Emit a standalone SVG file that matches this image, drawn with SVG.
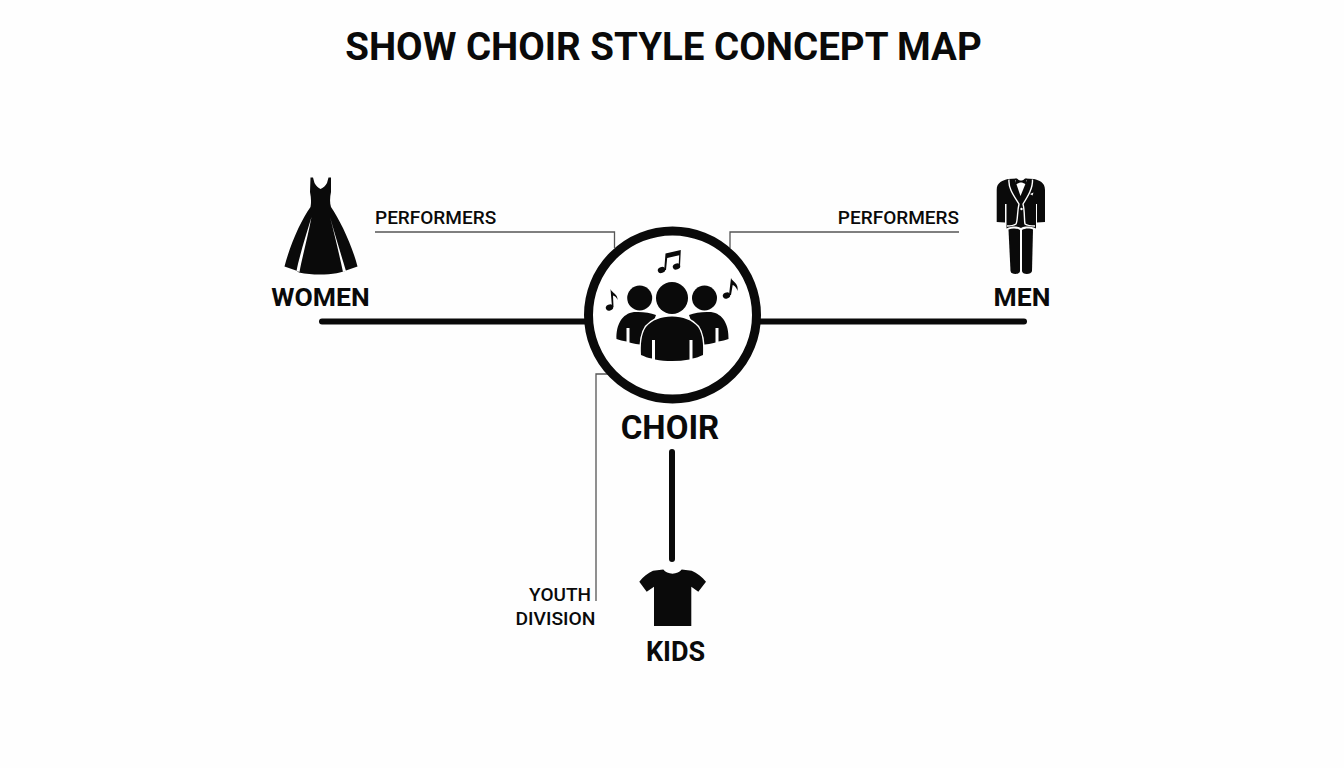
<svg xmlns="http://www.w3.org/2000/svg" width="1344" height="768" viewBox="0 0 1344 768">
<style>
text{font-family:Roboto,"Liberation Sans",sans-serif;fill:#0a0a0a;font-weight:700}
.thick{fill:none;stroke:#0a0a0a;stroke-width:6;stroke-linecap:round}
.thin{fill:none;stroke:#555;stroke-width:1.3}
.ink{fill:#0a0a0a}
.gap{fill:none;stroke:#fff;stroke-width:1.4}
.small{font-size:19px;font-weight:500}
</style>
<rect width="1344" height="768" fill="#fefefe"/>
<text x="663.500" y="60" font-size="38.500" text-anchor="middle">SHOW CHOIR STYLE CONCEPT MAP</text>
<g id="connectors">
<path class="thick" d="M322 321.500H586"/>
<path class="thick" d="M760 321.500H1024"/>
<path class="thick" d="M672 452V559"/>
<path class="thin" d="M375 232H614.500V248"/>
<path class="thin" d="M959 232H730V248"/>
<path class="thin" d="M596 601V374H609"/>
</g>
<g id="node-choir">
<circle cx="672.500" cy="315" r="84" fill="#fff" stroke="#0a0a0a" stroke-width="9"/>
<g class="ink">
<circle cx="639.700" cy="298" r="12.500"/>
<circle cx="704.500" cy="298" r="12.500"/>
<path d="M616.500 339C616 325 622 313.500 634 312C642 311.500 650 312.500 656 315L645 345C638 344.500 633 343.500 629.500 342.500V328H626.500V341.500C623 341 619.500 340.300 616.500 339Z"/>
<path d="M728.500 339C729 325 723 313.500 711 312C703 311.500 695 312.500 689 315L700 345C707 344.500 712 343.500 715.500 342.500V328H718.500V341.500C722 341 725.500 340.300 728.500 339Z"/>
<circle cx="672" cy="298" r="16"/>
<path d="M641 355C640.500 345 641 334 646 327C652 320 661 316.500 672 316.500C683 316.500 692 320 698 327C703 334 703.500 345 703 355C700 356.500 695.500 358 692.500 358.500V340H689.500V359.500C678 361.500 666 361.500 655 359.500V340H652V358.500C648 358 644.500 356.500 641 355Z" stroke="#fff" stroke-width="3" paint-order="stroke"/>
<ellipse cx="661.500" cy="270" rx="3.800" ry="3" transform="rotate(-20 661.500 270)"/>
<ellipse cx="676.500" cy="266.500" rx="3.800" ry="3" transform="rotate(-20 676.500 266.500)"/>
<path d="M664.200 270L665.500 253.500L680.800 250L680 266.500H678.600L679.200 255.300L667.200 258L666 270Z"/>
<ellipse cx="609.500" cy="307.500" rx="3.800" ry="3" transform="rotate(-25 609.500 307.500)"/>
<path d="M612 307L610.500 289C612 293 618 294 617.500 300C616.500 297 614.500 296 613 295.500L613.500 307Z"/>
<ellipse cx="726.500" cy="295.500" rx="3.800" ry="3" transform="rotate(-25 726.500 295.500)"/>
<path d="M729 295L731 278C732.500 282 739 283 737.500 291C736.500 287 734 285.500 732.700 285L731 295Z"/>
</g>
</g>
<text x="670" y="439" font-size="33" text-anchor="middle">CHOIR</text>
<g id="node-women">
<path class="ink" d="M310.500 177.500L313 177.500L314.500 183C316 186 318.500 188 320.500 189C323 188 325.500 186 327 183L328.500 177.500L331 177.500L331 192C330 197 329.500 202 331 207C340 220 352 245 357.500 266.500L346 270.500C342 273 320 277 299 272.500L296 270.500L284.500 266.500C290 245 301 220 310.500 207C311.500 202 311 197 310 192Z"/>
<path d="M311.500 217C305 238 299 258 296.500 271L299.500 272C302 258 308 236 311.500 217Z" fill="#fff"/>
<path d="M330 217C336 238 342 258 346 271L343 272C340 258 335 236 330 217Z" fill="#fff"/>
<text x="320.500" y="306" font-size="26.500" text-anchor="middle">WOMEN</text>
</g>
<g id="node-men">
<path class="ink" d="M1008 179L1017 178.500L1021 183L1025 178.500L1034 179C1039 180.500 1045 182 1045 190V222L1037 222.500V204H1036V228.500C1030 226 1025 226 1021 228C1017 226 1012 226 1006.500 228.500V204H1005V222.500L996.700 222V190C996.700 182 1003 180.500 1008 179Z"/>
<path class="ink" d="M1008.500 229.500C1012 228 1017 228 1020 230V271C1020 275 1011 275 1010.500 271Z"/>
<path class="ink" d="M1022 230C1025 228 1030 228 1033 229.500L1032 271C1031.500 275 1022 275 1022 271Z"/>
<path d="M1009 179.500C1008 188 1014 196 1019 204C1017 212 1018 220 1016 224C1013 226 1009 226 1007 226" class="gap"/>
<path d="M1032.500 179.500C1033 188 1028 196 1023 204C1025 212 1024 220 1025 224C1028 226 1032 226 1035 226" class="gap"/>
<path d="M1015 180L1020.500 196L1027 180Z" fill="#fff"/>
<path class="ink" d="M1015.500 178.500L1020 180.500H1022L1026.500 178.500V184.500L1022 182.500H1020L1015.500 184.500Z"/>
<circle cx="1021.500" cy="209" r="1.200" fill="#fff"/>
<path d="M1030 194L1033.500 192.500L1032.500 195.500Z" fill="#fff"/>
<text x="1022" y="306" font-size="26.500" text-anchor="middle">MEN</text>
</g>
<g id="node-kids">
<path class="ink" d="M663.300 569.500C667 575 678 575 681.700 569.500L691.700 570.700C697 573 702 577 706 581.700L698.300 591.700L691.300 586.700V626H654V586.700L646.700 591.700L639.300 581.700C643 577 648 573 653 570.700Z"/>
<text x="675.500" y="661" font-size="27" text-anchor="middle">KIDS</text>
</g>
<text class="small" x="375" y="223.500">PERFORMERS</text>
<text class="small" x="959" y="223.500" text-anchor="end">PERFORMERS</text>
<text class="small" x="591" y="601" text-anchor="end">YOUTH</text>
<text class="small" x="595.500" y="624.500" text-anchor="end" textLength="80" lengthAdjust="spacingAndGlyphs">DIVISION</text>
</svg>
